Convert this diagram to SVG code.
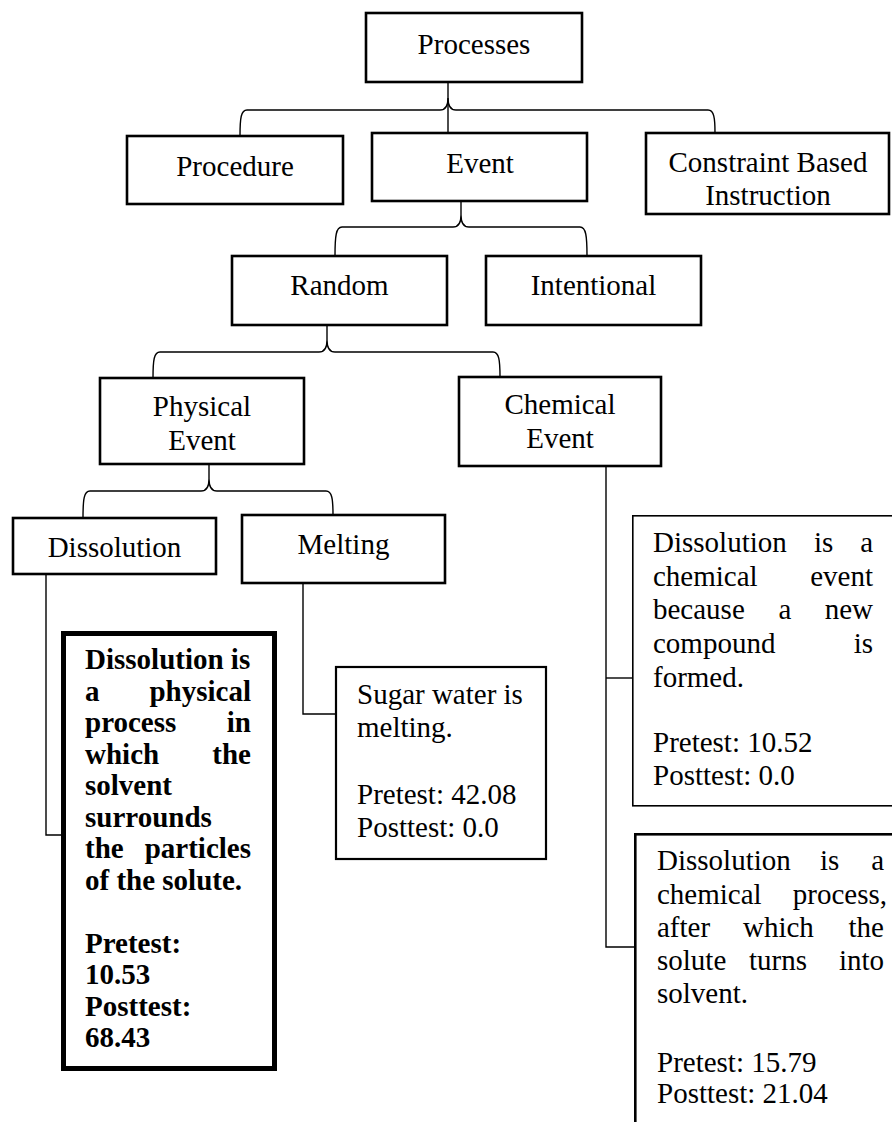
<svg xmlns="http://www.w3.org/2000/svg" width="892" height="1122" viewBox="0 0 892 1122">
  <style>
    text { font-family: "Liberation Serif", "Times New Roman", serif; font-size: 29px; fill: #000; }
    .c { text-anchor: middle; }
    .e { text-anchor: end; }
    .b { font-weight: bold; }
    .box { fill: #fff; stroke: #000; stroke-width: 2.6; }
    .thin { fill: #fff; stroke: #000; stroke-width: 1.6; }
    .mid { fill: #fff; stroke: #000; stroke-width: 2.2; }
    .heavy { fill: #fff; stroke: #000; stroke-width: 5; }
    .link { fill: none; stroke: #000; stroke-width: 1.4; }
  </style>
  <rect width="892" height="1122" fill="#fff"/>

  <!-- connectors: curly braces and elbow lines -->
  <g id="connectors">
    <path class="link" d="M448,82 L448,134"/>
    <path class="link" d="M240,136 C240,118 241,110 247,110 L440,110 C445,110 448,106 448,98 C448,106 451,110 456,110 L708,110 C714,110 715,118 715,133"/>
    <path class="link" d="M461,201 L461,215"/>
    <path class="link" d="M335,256 C335,236 336,227 342,227 L453,227 C458,227 461,223 461,215 C461,223 464,227 469,227 L580,227 C586,227 587,236 587,256"/>
    <path class="link" d="M327,325 L327,340"/>
    <path class="link" d="M153,378 C153,360 154,352 160,352 L319,352 C324,352 327,348 327,340 C327,348 330,352 335,352 L493,352 C499,352 500,360 500,377"/>
    <path class="link" d="M209,464 L209,479"/>
    <path class="link" d="M83,518 C83,499 84,491 90,491 L201,491 C206,491 209,487 209,479 C209,487 212,491 217,491 L326,491 C332,491 333,499 333,515"/>
    <path class="link" d="M46,574 V835 H61"/>
    <path class="link" d="M303,583 V714 H336"/>
    <path class="link" d="M606,466 V947 H634"/>
    <path class="link" d="M606,678 H632"/>
  </g>

  <g id="processes">
    <rect class="box" x="366" y="13" width="216" height="69"/>
    <text class="c" x="474" y="54">Processes</text>
  </g>

  <g id="procedure">
    <rect class="box" x="127" y="136" width="216" height="68"/>
    <text class="c" x="235" y="176">Procedure</text>
  </g>

  <g id="event">
    <rect class="box" x="372" y="133" width="215" height="68"/>
    <text class="c" x="480" y="173">Event</text>
  </g>

  <g id="constraint-based-instruction">
    <rect class="box" x="646" y="133" width="243" height="81"/>
    <text class="c" x="768" y="172">Constraint Based</text>
    <text class="c" x="768" y="205">Instruction</text>
  </g>

  <g id="random">
    <rect class="box" x="232" y="256" width="215" height="69"/>
    <text class="c" x="339.5" y="295">Random</text>
  </g>

  <g id="intentional">
    <rect class="box" x="486" y="256" width="215" height="69"/>
    <text class="c" x="593.5" y="295">Intentional</text>
  </g>

  <g id="physical-event">
    <rect class="box" x="100" y="378" width="204" height="86"/>
    <text class="c" x="202" y="416">Physical</text>
    <text class="c" x="202" y="450">Event</text>
  </g>

  <g id="chemical-event">
    <rect class="box" x="459" y="377" width="202" height="89"/>
    <text class="c" x="560" y="414">Chemical</text>
    <text class="c" x="560" y="448">Event</text>
  </g>

  <g id="dissolution">
    <rect class="box" x="13" y="518" width="203" height="56"/>
    <text class="c" x="114.5" y="557">Dissolution</text>
  </g>

  <g id="melting">
    <rect class="box" x="242" y="515" width="203" height="68"/>
    <text class="c" x="343.5" y="554">Melting</text>
  </g>

  <g id="physical-definition">
    <rect class="heavy" x="63.5" y="633.5" width="211" height="435"/>
    <g class="b">
      <text x="85" y="669">Dissolution is</text>
      <text x="85" y="700.5">a</text><text class="e" x="251" y="700.5">physical</text>
      <text x="85" y="732">process</text><text class="e" x="251" y="732">in</text>
      <text x="85" y="763.5">which</text><text class="e" x="251" y="763.5">the</text>
      <text x="85" y="795">solvent</text>
      <text x="85" y="826.5">surrounds</text>
      <text x="85" y="858">the</text><text class="e" x="251" y="858">particles</text>
      <text x="85" y="889.5">of the solute.</text>
      <text x="85" y="952.5">Pretest:</text>
      <text x="85" y="984">10.53</text>
      <text x="85" y="1015.5">Posttest:</text>
      <text x="85" y="1047">68.43</text>
    </g>
  </g>

  <g id="melting-definition">
    <rect class="mid" x="336" y="667" width="210" height="192"/>
    <text x="357" y="704">Sugar water is</text>
    <text x="357" y="737">melting.</text>
    <text x="357" y="804">Pretest: 42.08</text>
    <text x="357" y="837">Posttest: 0.0</text>
  </g>

  <g id="chemical-event-definition">
    <rect class="thin" x="632.8" y="515.8" width="300" height="290"/>
    <text x="653" y="552">Dissolution</text><text x="814" y="552">is</text><text class="e" x="873" y="552">a</text>
    <text x="653" y="586">chemical</text><text class="e" x="873" y="586">event</text>
    <text x="653" y="619">because</text><text x="778.5" y="619">a</text><text class="e" x="873" y="619">new</text>
    <text x="653" y="653">compound</text><text class="e" x="873" y="653">is</text>
    <text x="653" y="687">formed.</text>
    <text x="653" y="752">Pretest: 10.52</text>
    <text x="653" y="785">Posttest: 0.0</text>
  </g>

  <g id="chemical-process-definition">
    <rect class="box" x="635.3" y="834.3" width="300" height="400"/>
    <text x="657" y="870">Dissolution</text><text x="820" y="870">is</text><text class="e" x="884" y="870">a</text>
    <text x="657" y="904">chemical</text><text class="e" x="887" y="904">process,</text>
    <text x="657" y="937">after</text><text x="743" y="937">which</text><text class="e" x="884" y="937">the</text>
    <text x="657" y="970">solute</text><text x="749" y="970">turns</text><text class="e" x="884" y="970">into</text>
    <text x="657" y="1003">solvent.</text>
    <text x="657" y="1072">Pretest: 15.79</text>
    <text x="657" y="1103">Posttest: 21.04</text>
  </g>
</svg>
